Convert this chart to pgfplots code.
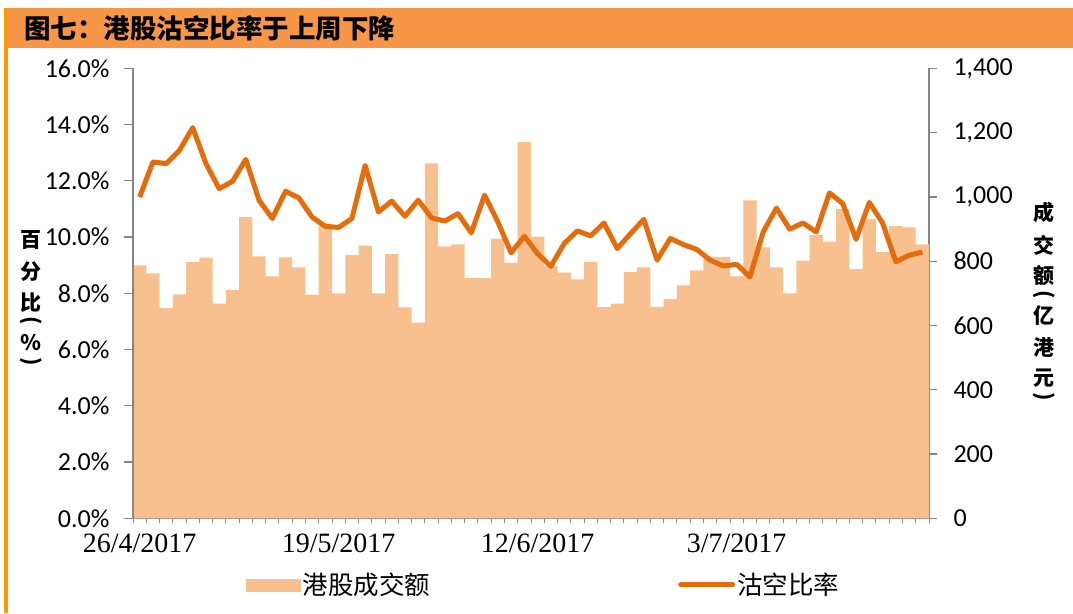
\documentclass[border=0pt]{standalone}
\usepackage{pgfplots}
\usepackage{pgfplotstable}
\pgfplotsset{compat=1.18}
\usepackage{fontspec}
\setmainfont{Carlito}
\newfontfamily\cjk{Noto Sans CJK SC}
\newfontfamily\tnr{Liberation Serif}
\definecolor{barcol}{HTML}{F9C08F}
\definecolor{linecol}{HTML}{E46C0A}
\definecolor{titlecol}{HTML}{F79646}
\definecolor{stripecol}{HTML}{FF9900}
\definecolor{axgray}{HTML}{868686}

\pgfplotstableread{
x v
0 787
1 762
2 654
3 697
4 797
5 811
6 668
7 711
8 937
9 815
10 753
11 812
12 781
13 696
14 917
15 700
16 819
17 848
18 700
19 822
20 656
21 609
22 1104
23 846
24 852
25 748
26 747
27 870
28 795
29 1170
30 876
31 784
32 764
33 743
34 798
35 657
36 668
37 766
38 781
39 658
40 682
41 725
42 771
43 813
44 813
45 753
46 989
47 843
48 781
49 700
50 802
51 881
52 861
53 962
54 775
55 931
56 828
57 909
58 905
59 852
}\bardata

\pgfplotstableread{
x r
0 11.42
1 12.67
2 12.61
3 13.08
4 13.89
5 12.61
6 11.72
7 11.98
8 12.76
9 11.31
10 10.66
11 11.63
12 11.39
13 10.71
14 10.38
15 10.34
16 10.66
17 12.55
18 10.89
19 11.28
20 10.74
21 11.31
22 10.68
23 10.57
24 10.83
25 10.15
26 11.49
27 10.54
28 9.44
29 10.03
30 9.41
31 8.96
32 9.77
33 10.22
34 10.04
35 10.50
36 9.59
37 10.12
38 10.63
39 9.18
40 9.95
41 9.73
42 9.56
43 9.18
44 8.97
45 9.03
46 8.58
47 10.18
48 11.03
49 10.28
50 10.50
51 10.18
52 11.57
53 11.19
54 9.92
55 11.23
56 10.50
57 9.12
58 9.35
59 9.47
}\linedata

\tikzset{vlab/.style={font=\cjk\bfseries\fontsize{21}{21}\selectfont, inner sep=0pt},
         vpar/.style={font=\cjk\bfseries\fontsize{21}{21}\selectfont, inner sep=0pt, rotate=-90}}

\begin{document}
\begin{tikzpicture}
\path[use as bounding box] (0pt,0pt) rectangle (1073pt,613pt);
\fill[titlecol] (5pt,565pt) rectangle (1073pt,605pt);
\fill[stripecol] (4pt,0pt) rectangle (7.5pt,605pt);
\node[anchor=west, inner sep=0pt, font=\cjk\bfseries\fontsize{26.5}{26.5}\selectfont] at (24pt,585pt) {图七：港股沽空比率于上周下降};

\begin{axis}[
  at={(133pt,94.7pt)}, anchor=south west, scale only axis,
  width=796pt, height=450pt,
  xmin=-0.5, xmax=59.5, ymin=0, ymax=1400,
  axis x line*=bottom, axis y line*=right,
  axis line style={-, axgray, line width=1.3pt},
  tick align=outside,
  major tick length=8pt, minor tick length=5pt,
  ytick={0,200,...,1400},
  ytick style={axgray, line width=1.3pt},
  xtick={0,15,30,45},
  xticklabels={26/4/2017,19/5/2017,12/6/2017,3/7/2017},
  major x tick style={draw=none},
  minor xtick={-0.5,0.5,...,59.5},
  minor x tick style={axgray, line width=1pt},
  xticklabel style={font=\tnr\fontsize{28}{28}\selectfont, yshift=-4pt},
  yticklabel style={font=\fontsize{26}{26}\selectfont, xshift=13pt},
  /pgf/number format/.cd, 1000 sep={,}, assume math mode=true,
]
\addplot[ybar, bar width=13.27pt, fill=barcol, draw=none, bar shift=0pt] table[x=x,y=v] {\bardata};
\end{axis}

\begin{axis}[
  at={(133pt,94.7pt)}, anchor=south west, scale only axis,
  width=796pt, height=450pt,
  xmin=-0.5, xmax=59.5, ymin=0, ymax=16,
  hide x axis,
  axis y line*=left,
  axis line style={-, axgray, line width=1.3pt},
  tick align=outside,
  major tick length=9pt,
  ytick={0,2,...,16},
  ytick style={axgray, line width=1.3pt},
  yticklabel={\pgfmathprintnumber[fixed,fixed zerofill,precision=1]{\tick}\%},
  yticklabel style={font=\fontsize{26}{26}\selectfont, xshift=-11pt},
  /pgf/number format/assume math mode=true,
  legend style={at={(0.516,-0.148)}, anchor=center, draw=none, fill=none,
    font=\cjk\fontsize{25.5}{25.5}\selectfont},
  legend columns=2,
]
\addlegendimage{legend image code/.code={\fill[barcol] (0pt,-6pt) rectangle (54pt,6pt);}}
\addlegendentry{港股成交额\hspace*{246pt}}
\addplot[linecol, line width=5pt, line join=round, mark=none,
  legend image code/.code={\draw[linecol, line width=5pt, line cap=round] (2pt,0pt) -- (54pt,0pt);}]
  table[x=x,y=r] {\linedata};
\addlegendentry{沽空比率}
\end{axis}

\node[vlab] at (31pt,373pt) {百};
\node[vlab] at (31pt,341pt) {分};
\node[vlab] at (31pt,310pt) {比};
\node[vpar] at (31pt,292pt) {(};
\node[vlab] at (31pt,270pt) {％};
\node[vpar] at (31pt,251pt) {)};

\node[vlab] at (1044pt,400pt) {成};
\node[vlab] at (1044pt,368pt) {交};
\node[vlab] at (1044pt,337pt) {额};
\node[vpar] at (1044pt,318pt) {(};
\node[vlab] at (1044pt,297pt) {亿};
\node[vlab] at (1044pt,266pt) {港};
\node[vlab] at (1044pt,235pt) {元};
\node[vpar] at (1044pt,216pt) {)};
\end{tikzpicture}
\end{document}
